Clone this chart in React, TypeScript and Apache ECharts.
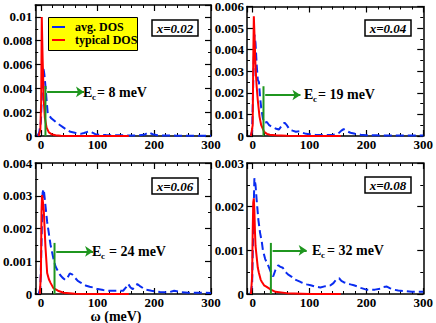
import React, { useEffect, useRef } from 'react';
import * as echarts from 'echarts';

// ---- data ----
const avgX02 = [-6, -3, 0, 2, 4, 6, 8, 10, 12, 15, 18, 22, 28, 34, 40, 46, 52, 58, 64, 70, 76, 82, 86, 90, 96, 104, 115, 130, 150, 170, 182, 190, 197, 205, 220, 240, 260, 280, 300];
const avgY02 = [0, 0.0003, 0.0012, 0.004, 0.0058, 0.0052, 0.0042, 0.003, 0.0019, 0.0017, 0.0015, 0.00135, 0.0011, 0.0009, 0.0007, 0.0005, 0.00035, 0.0003, 0.00022, 0.00018, 0.00025, 0.00035, 0.0004, 0.0003, 0.00015, 0.0001, 0.00008, 0.00006, 0.00005, 0.00005, 0.0001, 0.0003, 0.00015, 0.00006, 0.00004, 0.00003, 0.00002, 0.00002, 0.00002];
const typX02 = [-4, -1, 0.5, 1.5, 3, 5, 7, 10, 14, 20, 26, 35, 50, 80, 120, 155];
const typY02 = [0, 0.0005, 0.003, 0.01, 0.0065, 0.003, 0.0015, 0.0007, 0.0003, 0.00012, 0.00006, 0.00003, 0.00001, 0, 0, 0];

const avgX04 = [-4, -1, 1, 3, 5, 7, 9, 11, 13, 15, 18, 21, 25, 29, 34, 40, 46, 52, 56, 60, 65, 70, 76, 82, 88, 94, 100, 110, 125, 140, 150, 156, 160, 166, 172, 180, 190, 200, 220, 250, 280, 300];
const avgY04 = [0, 0.0002, 0.0025, 0.0047, 0.0043, 0.0033, 0.0026, 0.0025, 0.0018, 0.0013, 0.0008, 0.0006, 0.00065, 0.0005, 0.00042, 0.00035, 0.0003, 0.0005, 0.00062, 0.0005, 0.0003, 0.00025, 0.0002, 0.00022, 0.00015, 0.0001, 0.00008, 0.00006, 0.00005, 0.00005, 0.0001, 0.00025, 0.00032, 0.00022, 0.00015, 0.0001, 0.00006, 0.00004, 0.00003, 0.00002, 0.00002, 0.00002];
const typX04 = [-3, 0, 1, 2, 3, 5, 7, 9, 12, 15, 20, 25, 30, 40, 60, 100, 155];
const typY04 = [0, 0.0005, 0.0035, 0.00555, 0.0048, 0.0032, 0.0023, 0.00165, 0.0009, 0.0005, 0.0002, 0.0001, 0.00006, 0.00003, 0.00001, 0, 0];

const avgX06 = [-4, -1, 1, 3, 5, 8, 11, 14, 17, 20, 23, 26, 30, 34, 38, 43, 47, 51, 55, 60, 65, 70, 75, 80, 86, 92, 100, 110, 120, 133, 145, 150, 154, 158, 162, 166, 170, 174, 180, 186, 195, 210, 225, 235, 245, 260, 280, 300];
const avgY06 = [0, 0.0002, 0.0015, 0.0031, 0.0032, 0.0027, 0.0022, 0.00185, 0.0015, 0.00125, 0.001, 0.00083, 0.0007, 0.00058, 0.0005, 0.00043, 0.0005, 0.00063, 0.0006, 0.0005, 0.0004, 0.00035, 0.0003, 0.00025, 0.00022, 0.0002, 0.00015, 0.00012, 0.0001, 0.0001, 0.0001, 0.0002, 0.00031, 0.0002, 0.00015, 0.00025, 0.0003, 0.00025, 0.00018, 0.00013, 0.0001, 0.00006, 0.00005, 0.0001, 0.00006, 0.00004, 0.00004, 0.00003];
const typX06 = [-2, 0, 1, 2, 3, 5, 8, 11, 14, 17, 22, 30, 40, 60, 100, 155];
const typY06 = [0, 0.0006, 0.0025, 0.00302, 0.0029, 0.00257, 0.00144, 0.00064, 0.00045, 0.00034, 0.00018, 0.0001, 0.00004, 0.00001, 0, 0];

const avgX08 = [-4, -1, 1, 3, 5, 7, 10, 13, 16, 18, 22, 27, 32, 36, 40, 45, 49, 53, 58, 62, 68, 73, 80, 85, 95, 102, 110, 119, 128, 137, 142, 145, 149, 152, 156, 160, 167, 172, 178, 185, 190, 200, 207, 215, 225, 230, 236, 242, 248, 256, 265, 280, 300];
const avgY08 = [0, 0.0002, 0.0015, 0.00265, 0.0025, 0.00215, 0.0017, 0.0014, 0.0012, 0.001, 0.0008, 0.00066, 0.0005, 0.0004, 0.00055, 0.00066, 0.00062, 0.0006, 0.0005, 0.00045, 0.0004, 0.00034, 0.0003, 0.00027, 0.00022, 0.0002, 0.00017, 0.00015, 0.00018, 0.0002, 0.00025, 0.0003, 0.00035, 0.00036, 0.0003, 0.00027, 0.00024, 0.00022, 0.0002, 0.00017, 0.00014, 0.0001, 0.0001, 0.0001, 0.00012, 0.00016, 0.00017, 0.00013, 0.0001, 0.00008, 0.00007, 0.00005, 0.00005];
const typX08 = [-3, -1, 0, 1, 2, 3, 4, 5, 7, 9, 11, 14, 16, 20, 24, 32, 40, 60, 100, 155];
const typY08 = [0, 0.0004, 0.0014, 0.0021, 0.00219, 0.0019, 0.00143, 0.0011, 0.00085, 0.0006, 0.00048, 0.00033, 0.00028, 0.0002, 0.00017, 0.0001, 0.00005, 0.00002, 0, 0];

const panelLabels = ['x=0.02', 'x=0.04', 'x=0.06', 'x=0.08'];
const yMaxes = [0.011, 0.006, 0.004, 0.003];
const yIntervals = [0.002, 0.001, 0.001, 0.001];
const ecValues = [8, 19, 24, 32];
const ecLineTops = [0.0042, 0.0023, 0.00156, 0.00117];
const arrowY = [0.0037, 0.0019, 0.0013, 0.001];
const arrowEndX = [76, 84, 92, 95];
const xMin = -10;
const xMax = 300;
const xInterval = 100;

const avgXs = [avgX02, avgX04, avgX06, avgX08];
const avgYs = [avgY02, avgY04, avgY06, avgY08];
const typXs = [typX02, typX04, typX06, typX08];
const typYs = [typY02, typY04, typY06, typY08];

// ---- layout ----
const grids = [
  { left: 32, top: 5 },
  { left: 247, top: 5 },
  { left: 32, top: 163 },
  { left: 247, top: 163 },
];
const GW = 179;
const GH = 131;
const FONT = 'Liberation Serif, DejaVu Serif, serif';
const BLUE = '#0a2cf0';
const RED = '#ff0000';
const GREEN = '#1f961f';

const zip = (xs: number[], ys: number[]) => xs.map((x, i) => [x, ys[i]]);

export default function App() {
  const ref = useRef<HTMLDivElement>(null);
  useEffect(() => {
    if (!ref.current) return;
    const chart = echarts.init(ref.current, undefined, { renderer: 'svg' });

    const xAxes: any[] = [];
    const yAxes: any[] = [];
    const series: any[] = [];
    const axisLine = { show: true, onZero: false, lineStyle: { color: '#000', width: 1.5 } };

    grids.forEach((g, i) => {
      const xBase = {
        type: 'value',
        gridIndex: i,
        min: xMin,
        max: xMax,
        splitNumber: 3,
        minInterval: xInterval,
        maxInterval: xInterval,
        axisLine,
        axisTick: { show: true, inside: true, length: 6, lineStyle: { color: '#000', width: 1.2 } },
        minorTick: { show: true, splitNumber: 5, length: 3, lineStyle: { color: '#000', width: 1 } },
        splitLine: { show: false },
      };
      xAxes.push({
        ...xBase,
        position: 'bottom',
        axisLabel: {
          show: true,
          margin: 2,
          color: '#000',
          fontFamily: FONT,
          fontWeight: 'bold',
          fontSize: 13,
          formatter: (v: number) => (v % xInterval === 0 ? String(v) : ''),
        },
      });
      xAxes.push({ ...xBase, position: 'top', axisLabel: { show: false } });

      const iv = yIntervals[i];
      const yBase = {
        type: 'value',
        gridIndex: i,
        min: 0,
        max: yMaxes[i],
        interval: iv,
        axisLine,
        axisTick: { show: true, inside: true, length: 6, lineStyle: { color: '#000', width: 1.2 } },
        minorTick: { show: true, splitNumber: 2, length: 3, lineStyle: { color: '#000', width: 1 } },
        splitLine: { show: false },
      };
      yAxes.push({
        ...yBase,
        position: 'left',
        axisLabel: {
          show: true,
          margin: 3,
          color: '#000',
          fontFamily: FONT,
          fontWeight: 'bold',
          fontSize: 13,
          formatter: (v: number) => {
            const k = v / iv;
            if (Math.abs(k - Math.round(k)) > 1e-6) return '';
            if (v === 0) return '0';
            return String(+v.toFixed(4));
          },
        },
      });
      yAxes.push({ ...yBase, position: 'right', axisLabel: { show: false } });

      const xi = 2 * i;
      const yi = 2 * i;
      series.push({
        type: 'line',
        xAxisIndex: xi,
        yAxisIndex: yi,
        data: zip(avgXs[i], avgYs[i]),
        showSymbol: false,
        lineStyle: { color: BLUE, width: 2, type: [8, 4] },
        z: 2,
      });
      series.push({
        type: 'line',
        xAxisIndex: xi,
        yAxisIndex: yi,
        data: zip(typXs[i], typYs[i]),
        showSymbol: false,
        lineStyle: { color: RED, width: 2 },
        z: 3,
      });
      series.push({
        type: 'line',
        xAxisIndex: xi,
        yAxisIndex: yi,
        data: [
          [ecValues[i], 0],
          [ecValues[i], ecLineTops[i]],
        ],
        showSymbol: false,
        lineStyle: { color: GREEN, width: 2 },
        z: 4,
        markLine: {
          silent: true,
          symbol: ['none', 'arrow'],
          symbolSize: [8, 8],
          label: { show: false },
          lineStyle: { color: GREEN, width: 2, type: 'solid' },
          data: [
            [
              { coord: [ecValues[i] + 3, arrowY[i]] },
              { coord: [arrowEndX[i], arrowY[i]] },
            ],
          ],
        },
      });
    });

    const txt = (x: number, y: number, text: string, size: number, extra: any = {}) => ({
      type: 'text',
      x,
      y,
      z: 100,
      style: {
        text,
        fill: '#000',
        fontFamily: FONT,
        fontWeight: 'bold',
        fontSize: size,
        align: 'left',
        verticalAlign: 'middle',
        ...extra,
      },
    });

    const graphics: any[] = [];
    // legend
    graphics.push({
      type: 'rect',
      z: 90,
      shape: { x: 48.5, y: 17.5, width: 89, height: 33 },
      style: { fill: '#ffff00', stroke: '#000', lineWidth: 1 },
    });
    graphics.push({ type: 'line', z: 95, shape: { x1: 52, y1: 27, x2: 65, y2: 27 }, style: { stroke: BLUE, lineWidth: 2 } });
    graphics.push({ type: 'line', z: 95, shape: { x1: 52, y1: 40, x2: 65, y2: 40 }, style: { stroke: RED, lineWidth: 2 } });
    graphics.push(txt(75, 27, 'avg. DOS', 12));
    graphics.push(txt(75, 40, 'typical DOS', 12));

    // panel label boxes
    const boxes = [
      { x: 152, y: 20 },
      { x: 365, y: 20 },
      { x: 152, y: 178 },
      { x: 365, y: 177 },
    ];
    boxes.forEach((b, i) => {
      graphics.push({
        type: 'rect',
        z: 90,
        shape: { x: b.x, y: b.y, width: 46, height: 16 },
        style: { fill: '#fff', stroke: '#000', lineWidth: 1.5 },
      });
      graphics.push(txt(b.x + 23, b.y + 8.5, panelLabels[i], 13, { align: 'center', fontStyle: 'italic' }));
    });

    // E_c annotations
    const ecPos = [
      { x: 83, y: 92, gap: 14 },
      { x: 304, y: 94, gap: 14 },
      { x: 92, y: 251, gap: 17 },
      { x: 312, y: 250, gap: 15 },
    ];
    ecPos.forEach((p, i) => {
      graphics.push(txt(p.x, p.y, 'E', 14));
      graphics.push(txt(p.x + 9, p.y + 5, 'c', 9));
      graphics.push(txt(p.x + p.gap, p.y, `= ${ecValues[i]} meV`, 14));
    });

    // x axis title
    graphics.push(txt(116, 316.5, 'ω (meV)', 14, { align: 'center' }));

    chart.setOption({
      animation: false,
      backgroundColor: '#fff',
      grid: grids.map((g) => ({ left: g.left, top: g.top, width: GW, height: GH, containLabel: false })),
      xAxis: xAxes,
      yAxis: yAxes,
      series,
      graphic: graphics,
    });
    return () => chart.dispose();
  }, []);

  return <div ref={ref} style={{ position: 'fixed', left: 0, top: 0, width: 436, height: 323 }} />;
}
